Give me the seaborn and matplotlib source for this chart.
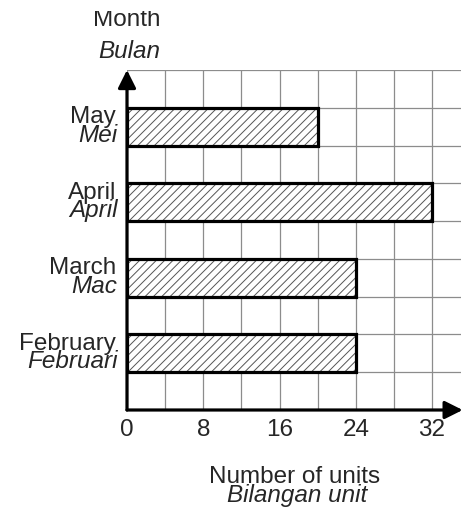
import matplotlib
matplotlib.use("Agg")
import matplotlib.pyplot as plt
from matplotlib.transforms import Bbox, TransformedBbox
import seaborn as sns
import pandas as pd
import numpy as np

# data (top to bottom)
months_en = ['May', 'April', 'March', 'February']
months_ms = ['Mei', 'April', 'Mac', 'Februari']
units = [20, 32, 24, 24]
x_ticks = [0, 8, 16, 24, 32]

df = pd.DataFrame({'month': months_en, 'units': units})

sns.set_style("white")
plt.rcParams['font.family'] = ['Liberation Sans', 'DejaVu Sans']
plt.rcParams['hatch.linewidth'] = 0.7
FS = 17.5

W, H = 461, 513
fig = plt.figure(figsize=(W / 100, H / 100), dpi=100)
left, bottom, top = 127 / W, (H - 410) / H, (H - 70) / H
ax = fig.add_axes([left, bottom, 1 - left, top - bottom])

# hatched fill
sns.barplot(data=df, x='units', y='month', order=months_en, orient='h',
            width=0.5, color='white', edgecolor='#555555', linewidth=0,
            hatch='////', ax=ax, zorder=2)
for p in ax.patches:
    p.set_hatch('////')
    p.set_edgecolor('#555555')
# thick outline
sns.barplot(data=df, x='units', y='month', order=months_en, orient='h',
            width=0.5, fill=False, color='black', linewidth=2.3, ax=ax, zorder=3)

ax.set_xlim(0, (W - 127) / ((432 - 127) / 32))
ax.set_ylim(3.75, -0.75)

# grid
ax.set_xticks(x_ticks)
ax.set_xticks(np.arange(4, 36, 8), minor=True)
ax.set_yticks(range(len(months_en)))
ax.set_yticks(np.arange(-0.75, 3.8, 0.5), minor=True)
ax.xaxis.grid(True, which='both', color='#8c8c8c', lw=0.9)
ax.yaxis.grid(True, which='minor', color='#8c8c8c', lw=0.9)
ax.yaxis.grid(False, which='major')
ax.set_axisbelow(True)
ax.tick_params(which='minor', length=0)

ax.set_xticklabels([str(v) for v in x_ticks])
ax.tick_params(axis='x', which='major', direction='inout', length=9, width=2.2,
               labelsize=FS, pad=2, color='black')
ax.xaxis.get_major_ticks()[0].tick1line.set_visible(False)
ax.set_yticklabels([])
ax.tick_params(axis='y', which='major', length=0)
ax.set_xlabel('')
ax.set_ylabel('')
for s in ax.spines.values():
    s.set_visible(False)

# axes with arrows
arrow = dict(arrowstyle='-|>', lw=2.3, color='black', mutation_scale=27,
             shrinkA=0, shrinkB=0)
ax.annotate('', xy=(0, 1), xytext=(0, 0), xycoords='axes fraction', arrowprops=arrow,
            annotation_clip=False, zorder=5)
ax.annotate('', xy=(1.005, 0), xytext=(0, 0), xycoords='axes fraction', arrowprops=arrow,
            annotation_clip=False, zorder=5)

# two-line category labels
tr = ax.get_yaxis_transform()
for i, (en, ms) in enumerate(zip(months_en, months_ms)):
    ax.annotate(en, xy=(0, i), xycoords=tr, xytext=(-8, 2.6), textcoords='offset points',
                ha='right', va='baseline', fontsize=FS)
    ax.annotate(ms, xy=(0, i), xycoords=tr, xytext=(-6.8, -10.8), textcoords='offset points',
                ha='right', va='baseline', fontsize=FS, style='italic')

# axis titles (the top one is cut off in the original)
t = fig.text(127 / W, 1 - 26 / H, 'Month', ha='center', va='baseline', fontsize=FS)
t.set_clip_box(TransformedBbox(Bbox([[0, 0], [1, 1 - 11 / H]]), fig.transFigure))
t.set_clip_on(True)
fig.text(129 / W, 1 - 58 / H, 'Bulan', ha='center', va='baseline', fontsize=FS, style='italic')
fig.text(295 / W, 1 - 483 / H, 'Number of units', ha='center', va='baseline', fontsize=FS)
fig.text(297 / W, 1 - 502 / H, 'Bilangan unit', ha='center', va='baseline', fontsize=FS,
         style='italic')

fig.savefig('out.png', dpi=100)
